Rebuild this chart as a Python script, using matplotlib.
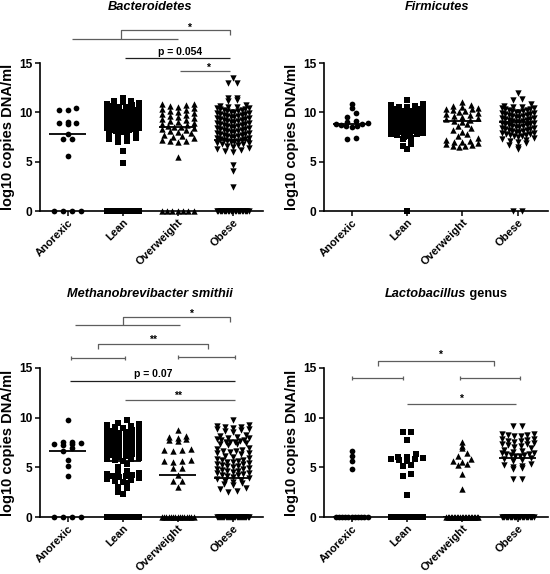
import numpy as np
import matplotlib
matplotlib.use("Agg")
import matplotlib.pyplot as plt

plt.rcParams["font.family"] = ["Liberation Sans", "DejaVu Sans"]
plt.rcParams["font.weight"] = "bold"

groups = ["Anorexic", "Lean", "Overweight", "Obese"]

# Bacteroidetes: number of samples at 0, then the non-zero values per group
bact_zeros = [4, 14, 7, 24]
bact_an = [5.6, 7.3, 7.3, 7.8, 8.8, 8.9, 8.9, 9.0, 10.2, 10.2, 10.4]
bact_le = [4.9, 6.1, 7.0, 7.1, 7.3, 7.4, 7.6, 7.7, 7.8, 7.9, 8.0, 8.0, 8.1, 8.2, 8.2,
           8.3, 8.4, 8.4, 8.5, 8.5, 8.6, 8.6, 8.7, 8.8, 8.8, 8.9, 8.9, 9.0, 9.0, 9.1,
           9.1, 9.2, 9.2, 9.3, 9.3, 9.4, 9.4, 9.5, 9.5, 9.6, 9.6, 9.7, 9.8, 9.8, 9.9,
           9.9, 10.0, 10.0, 10.1, 10.2, 10.2, 10.3, 10.4, 10.5, 10.5, 10.6, 10.7, 10.8,
           10.9, 11.0, 11.1, 11.2, 11.5]
bact_ov = [5.5, 7.0, 7.1, 7.1, 7.2, 7.4, 7.5, 7.6, 7.7, 7.9, 8.0, 8.1, 8.2, 8.3, 8.4,
           8.5, 8.5, 8.6, 8.7, 8.8, 8.9, 9.0, 9.1, 9.2, 9.3, 9.4, 9.5, 9.6, 9.7, 9.8,
           9.9, 10.0, 10.1, 10.2, 10.3, 10.4, 10.5, 10.6, 10.7, 10.8, 10.8]
bact_ob = [2.4, 4.1, 4.7, 6.0, 6.1, 6.2, 6.3, 6.4, 6.5, 6.6, 6.7, 6.8, 6.8, 6.9, 6.9,
           7.0, 7.0, 7.1, 7.1, 7.2, 7.2, 7.3, 7.3, 7.4, 7.4, 7.5, 7.5, 7.6, 7.6, 7.7,
           7.7, 7.8, 7.8, 7.9, 7.9, 8.0, 8.0, 8.1, 8.1, 8.2, 8.2, 8.3, 8.3, 8.4, 8.4,
           8.5, 8.5, 8.6, 8.6, 8.7, 8.7, 8.8, 8.8, 8.9, 8.9, 9.0, 9.0, 9.1, 9.1, 9.2,
           9.2, 9.3, 9.3, 9.4, 9.4, 9.5, 9.5, 9.6, 9.6, 9.7, 9.7, 9.8, 9.8, 9.9, 9.9,
           10.0, 10.0, 10.1, 10.1, 10.2, 10.2, 10.3, 10.3, 10.4, 10.4, 10.5, 10.5, 10.6,
           10.7, 11.2, 11.3, 11.5, 11.5, 13.0, 13.0, 13.5]
bact_med = [7.8, 8.6, 8.5, 7.2]

# Firmicutes
firm_zeros = [0, 1, 0, 2]
firm_an = [7.3, 7.4, 8.5, 8.6, 8.6, 8.7, 8.8, 8.8, 8.9, 9.0, 9.1, 9.55, 9.95, 10.45, 10.8]
firm_le = [6.3, 6.6, 6.8, 7.3, 7.4, 7.5, 7.6, 7.7, 7.8, 7.8, 7.9, 8.0, 8.0, 8.1, 8.1,
           8.2, 8.3, 8.3, 8.4, 8.4, 8.5, 8.5, 8.6, 8.6, 8.7, 8.7, 8.8, 8.8, 8.9, 8.9,
           9.0, 9.0, 9.1, 9.1, 9.2, 9.2, 9.3, 9.3, 9.4, 9.4, 9.5, 9.5, 9.6, 9.6, 9.7,
           9.7, 9.8, 9.8, 9.9, 9.9, 10.0, 10.0, 10.1, 10.1, 10.2, 10.2, 10.3, 10.3,
           10.4, 10.4, 10.5, 10.5, 10.6, 10.7, 10.8, 11.3]
firm_ov = [6.5, 6.6, 6.6, 6.7, 6.8, 6.9, 7.0, 7.0, 7.1, 7.2, 7.4, 7.6, 7.8, 8.0, 8.2,
           8.4, 8.6, 8.8, 9.0, 9.1, 9.2, 9.3, 9.4, 9.5, 9.6, 9.7, 9.8, 9.9, 10.0, 10.1,
           10.2, 10.3, 10.3, 10.4, 10.5, 10.6, 10.7, 11.0]
firm_ob = [6.3, 6.5, 6.7, 6.9, 7.0, 7.1, 7.2, 7.3, 7.4, 7.5, 7.6, 7.6, 7.7, 7.7, 7.8,
           7.8, 7.9, 7.9, 8.0, 8.0, 8.1, 8.1, 8.2, 8.2, 8.3, 8.3, 8.4, 8.4, 8.5, 8.5,
           8.6, 8.6, 8.7, 8.7, 8.8, 8.8, 8.9, 8.9, 9.0, 9.0, 9.1, 9.1, 9.2, 9.2, 9.3,
           9.3, 9.4, 9.4, 9.5, 9.5, 9.6, 9.6, 9.7, 9.7, 9.8, 9.8, 9.9, 9.9, 10.0, 10.0,
           10.1, 10.1, 10.2, 10.2, 10.3, 10.3, 10.4, 10.4, 10.5, 10.5, 10.6, 10.8, 11.3,
           11.4, 12.0]
firm_med = [8.8, 9.0, 9.1, 9.0]

# Methanobrevibacter smithii
meth_zeros = [4, 20, 15, 30]
meth_an = [4.1, 5.1, 5.7, 6.6, 6.9, 7.2, 7.3, 7.3, 7.4, 7.5, 7.6, 9.8]
meth_le = [2.3, 2.5, 2.9, 3.0, 3.4, 3.5, 3.6, 3.7, 3.8, 3.9, 4.0, 4.1, 4.1, 4.2, 4.3,
           4.4, 4.5, 4.6, 5.0, 5.3, 5.6, 5.7, 5.8, 5.8, 5.9, 6.0, 6.1, 6.2, 6.3, 6.3,
           6.4, 6.5, 6.6, 6.7, 6.8, 6.8, 6.9, 7.0, 7.1, 7.2, 7.3, 7.3, 7.4, 7.5, 7.6,
           7.7, 7.8, 7.8, 7.9, 8.0, 8.1, 8.2, 8.3, 8.3, 8.4, 8.5, 8.6, 8.7, 8.8, 8.8,
           8.9, 9.0, 9.1, 9.2, 9.3, 9.4, 9.5, 9.8]
meth_ov = [3.0, 3.6, 3.6, 4.2, 4.9, 4.9, 5.5, 5.6, 5.6, 5.7, 6.6, 6.7, 6.7, 6.8, 7.7,
           7.8, 7.9, 8.0, 8.1, 8.2, 8.8]
meth_ob = [2.5, 2.6, 2.8, 2.9, 3.2, 3.3, 3.4, 3.5, 3.6, 3.7, 3.8, 3.9, 4.0, 4.1, 4.2,
           4.25, 4.3, 4.4, 4.45, 4.5, 4.6, 4.65, 4.7, 4.8, 4.85, 4.9, 5.0, 5.1, 5.15,
           5.2, 5.3, 5.35, 5.4, 5.5, 5.55, 5.6, 5.7, 5.75, 5.8, 5.9, 6.0, 6.1, 6.3,
           6.4, 6.45, 6.5, 6.6, 6.65, 6.7, 6.8, 6.9, 7.2, 7.3, 7.35, 7.4, 7.5, 7.55,
           7.6, 7.7, 7.75, 7.8, 7.9, 7.95, 8.0, 8.1, 8.2, 8.3, 8.6, 8.7, 8.8, 8.85,
           8.9, 9.0, 9.05, 9.1, 9.2, 9.3, 9.8]
meth_med = [6.6, 5.6, 4.2, 3.9]

# Lactobacillus genus
lact_zeros = [11, 30, 22, 25]
lact_an = [4.8, 5.6, 6.1, 6.6]
lact_le = [2.2, 4.1, 4.3, 5.1, 5.2, 5.6, 5.7, 5.8, 5.8, 5.9, 6.0, 6.0, 6.3, 7.8, 8.6, 8.6]
lact_ov = [2.8, 4.3, 5.2, 5.3, 5.5, 5.6, 5.8, 6.1, 6.4, 6.95, 7.15, 7.5]
lact_ob = [3.8, 3.8, 4.8, 4.9, 5.0, 5.1, 5.2, 5.3, 5.6, 5.7, 5.8, 5.9, 6.1, 6.1, 6.2,
           6.2, 6.3, 6.3, 6.4, 6.4, 6.5, 6.6, 6.7, 6.9, 7.0, 7.1, 7.2, 7.3, 7.3, 7.4,
           7.6, 7.7, 7.7, 7.8, 7.9, 7.9, 8.2, 8.2, 8.3, 8.3, 8.4, 8.4, 9.2, 9.2]
lact_med = [0, 0, 0, 5.9]

markers = ["o", "s", "^", "v"]
msizes = [17, 15, 21, 21]
GRAY = "#5e5e5e"
DARK = "#1e1e1e"


def swarm(vals, center, step=0.16, half=0.29, h=0.5):
    # GraphPad-like column scatter: bin by height, lowest value of a bin in the middle
    vals = np.asarray(vals, float)
    xs = np.zeros_like(vals)
    bins = np.floor(vals / h + 1e-9).astype(int)
    for b in np.unique(bins):
        idx = np.where(bins == b)[0]
        idx = idx[np.argsort(vals[idx], kind="stable")]
        n = len(idx)
        st = step if n < 2 else min(step, 2 * half / (n - 1))
        offs = (np.arange(n) - (n - 1) / 2) * st
        order = np.argsort(np.abs(offs), kind="stable")
        xs[idx] = center + offs[order]
    return xs


def draw_panel(ax, zeros, series, medians):
    for i, (vals, nz) in enumerate(zip(series, zeros)):
        v = np.concatenate([np.zeros(nz), np.asarray(vals, float)])
        x = swarm(v, i)
        ax.scatter(x, v, marker=markers[i], s=msizes[i], c="black", linewidths=0,
                   clip_on=False, zorder=3)
        ax.plot([i - 0.34, i + 0.34], [medians[i], medians[i]], color="black", lw=1.3,
                zorder=4, solid_capstyle="butt")
    ax.set_xlim(-0.5, 3.55)
    ax.set_ylim(0, 15)
    ax.set_yticks([0, 5, 10, 15])
    ax.set_xticks(range(4))
    ax.set_xticklabels(groups, rotation=45, ha="right", rotation_mode="anchor")
    ax.tick_params(labelsize=8.6, length=3.5, width=1.1, pad=2)
    ax.tick_params(axis="x", labelsize=8.0, pad=1.0)
    for s in ["top", "right"]:
        ax.spines[s].set_visible(False)
    for s in ["left", "bottom"]:
        ax.spines[s].set_linewidth(1.2)
    ax.set_ylabel("log10 copies DNA/ml", fontsize=10.5, fontweight="bold", labelpad=3)


def seg(ax, xs, ys, color=GRAY):
    ax.plot(xs, ys, color=color, lw=0.9, clip_on=False, solid_capstyle="butt")


def capped(ax, x0, x1, y, c=0.22):
    seg(ax, [x0, x1], [y, y])
    seg(ax, [x0, x0], [y - c, y + c])
    seg(ax, [x1, x1], [y - c, y + c])


def note(ax, x, y, s):
    ax.text(x, y, s, ha="center", va="baseline", fontsize=7.5, fontweight="bold",
            clip_on=False)


fig = plt.figure(figsize=(5.5, 5.74), dpi=100)
ax1 = fig.add_axes([0.0727, 0.6324, 0.4055, 0.2578])
ax2 = fig.add_axes([0.5891, 0.6324, 0.4073, 0.2578])
ax3 = fig.add_axes([0.0727, 0.0993, 0.4055, 0.2596])
ax4 = fig.add_axes([0.5891, 0.0993, 0.4073, 0.2596])

draw_panel(ax1, bact_zeros, [bact_an, bact_le, bact_ov, bact_ob], bact_med)
draw_panel(ax2, firm_zeros, [firm_an, firm_le, firm_ov, firm_ob], firm_med)
draw_panel(ax3, meth_zeros, [meth_an, meth_le, meth_ov, meth_ob], meth_med)
draw_panel(ax4, lact_zeros, [lact_an, lact_le, lact_ov, lact_ob], lact_med)

# Bacteroidetes comparisons
seg(ax1, [0.08, 2.0], [17.4, 17.4])
seg(ax1, [0.97, 0.97, 2.95, 2.95], [17.4, 18.3, 18.3, 17.8])
note(ax1, 2.2, 18.3, "*")
seg(ax1, [1.05, 2.95], [15.5, 15.5], DARK)
note(ax1, 2.05, 15.8, "p = 0.054")
seg(ax1, [2.05, 2.95], [14.2, 14.2])
note(ax1, 2.55, 14.25, "*")

# Methanobrevibacter smithii comparisons
seg(ax3, [0.13, 2.05], [19.3, 19.3])
seg(ax3, [1.0, 1.0, 2.95, 2.95], [19.3, 20.1, 20.1, 19.6])
note(ax3, 2.25, 20.1, "*")
seg(ax3, [0.56, 0.56, 2.55, 2.55], [16.9, 17.4, 17.4, 16.9])
note(ax3, 1.55, 17.5, "**")
capped(ax3, 0.07, 1.05, 16.0)
capped(ax3, 2.0, 3.05, 16.1)
seg(ax3, [0.05, 3.05], [13.7, 13.7], DARK)
note(ax3, 1.55, 14.05, "p = 0.07")
seg(ax3, [1.05, 3.05], [11.8, 11.8])
note(ax3, 2.0, 11.85, "**")

# Lactobacillus comparisons
seg(ax4, [0.47, 0.47, 2.58, 2.58], [15.2, 15.7, 15.7, 15.2])
note(ax4, 1.6, 16.0, "*")
capped(ax4, 0.0, 0.93, 14.0)
capped(ax4, 1.95, 3.05, 14.0)
seg(ax4, [1.0, 2.98], [11.4, 11.4])
note(ax4, 1.98, 11.6, "*")

tkw = dict(ha="center", va="center", fontsize=9.2, fontweight="bold")
fig.text(150 / 550, 1 - 7 / 574, "Bacteroidetes", style="italic", **tkw)
fig.text(437 / 550, 1 - 7 / 574, "Firmicutes", style="italic", **tkw)
fig.text(150 / 550, 1 - 294 / 574, "Methanobrevibacter smithii", style="italic", **tkw)
ytl = 1 - 294 / 574
fig.text(466 / 550, ytl, "Lactobacillus", style="italic", ha="right", va="center",
         fontsize=9.2, fontweight="bold")
fig.text(466 / 550, ytl, " genus", ha="left", va="center", fontsize=9.2,
         fontweight="bold")

fig.savefig("out.png", dpi=100)
